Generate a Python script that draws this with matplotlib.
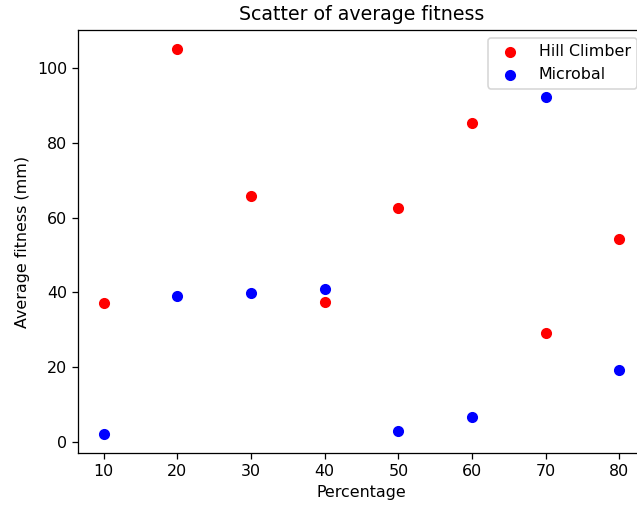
import matplotlib
matplotlib.use("Agg")
import matplotlib.pyplot as plt

# --------- DATA ----------
percentages = [10, 20, 30, 40, 50, 60, 70, 80]
hill_climber = [37.0, 105.1, 65.7, 37.3, 62.5, 85.3, 29.0, 54.4]
microbal = [2.1, 39.1, 39.9, 41.0, 2.9, 6.7, 92.2, 19.3]
# -------------------------

DPI = 114.3
W, H = 637, 505
fig = plt.figure(figsize=(W / DPI, H / DPI), dpi=DPI)
ax = fig.add_axes([78 / W, 1 - 453 / H, (645 - 78) / W, (453 - 30) / H])

ax.scatter(percentages, hill_climber, color="red", label="Hill Climber")
ax.scatter(percentages, microbal, color="blue", label="Microbal")

ax.set_title("Scatter of average fitness")
ax.set_xlabel("Percentage")
ax.set_ylabel("Average fitness (mm)")
ax.legend(loc="upper right")

fig.savefig("out.png", dpi=DPI)
